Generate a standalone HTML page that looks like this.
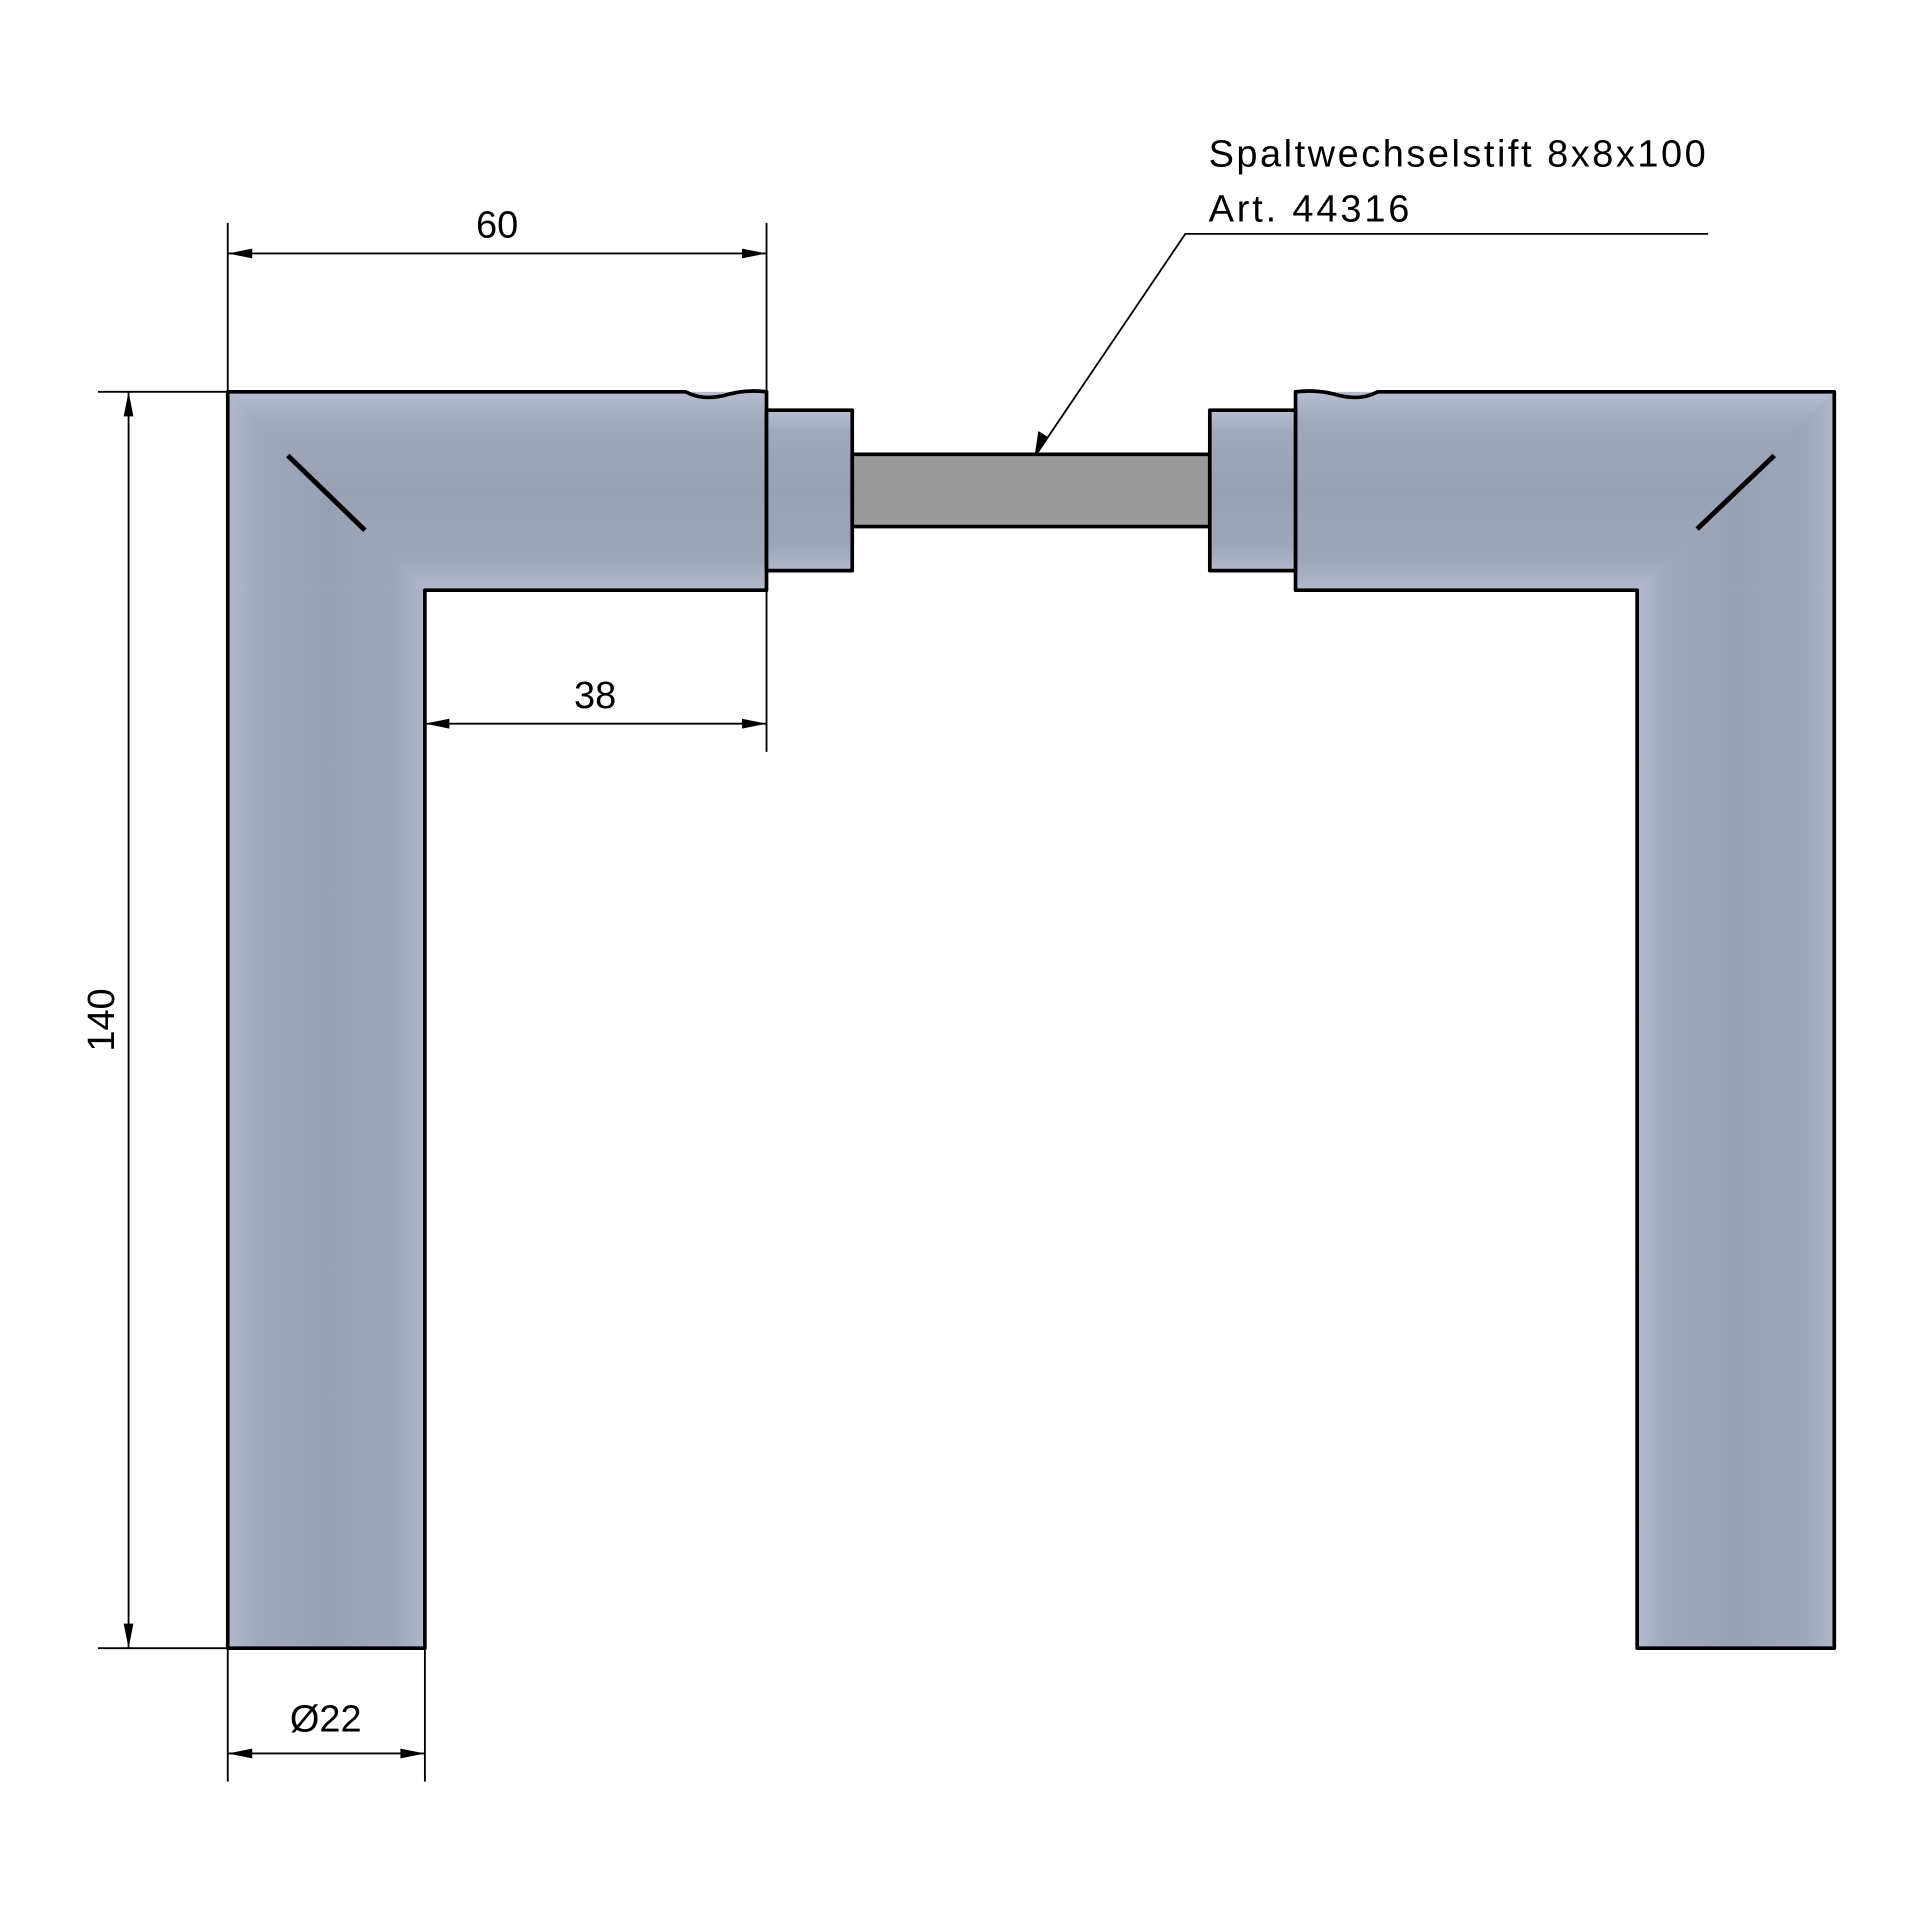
<!DOCTYPE html>
<html><head><meta charset="utf-8"><style>html,body{margin:0;padding:0;background:#fff}svg{display:block}</style></head>
<body>
<svg width="1920" height="1920" viewBox="0 0 1568 1568" xmlns="http://www.w3.org/2000/svg">
<defs>
<linearGradient id="gv" x1="0" x2="1" y1="0" y2="0">
<stop offset="0" stop-color="#b4bacc"/><stop offset="0.15" stop-color="#a2a8bc"/><stop offset="0.5" stop-color="#9aa0b4"/><stop offset="0.85" stop-color="#a0a6ba"/><stop offset="1" stop-color="#b0b6ca"/>
</linearGradient>
<linearGradient id="gh" x1="0" x2="0" y1="0" y2="1">
<stop offset="0" stop-color="#b8bed2"/><stop offset="0.15" stop-color="#a2a8bc"/><stop offset="0.5" stop-color="#9aa0b4"/><stop offset="0.85" stop-color="#a0a6ba"/><stop offset="1" stop-color="#b4bacc"/>
</linearGradient>
</defs>
<g stroke="#000" stroke-width="3" stroke-linejoin="round">
<rect x="186" y="320" width="161" height="1026" fill="url(#gv)" stroke="none"/>
<rect x="186" y="320" width="440" height="162" fill="url(#gh)" stroke="none"/>
<polygon points="186,320 347,482 186,482" fill="url(#gv)" stroke="none"/>
<path d="M186,1346 L186,320 L560,320 Q575,328 595,322 Q610,318 626,320 L626,482 L347,482 L347,1346 Z" fill="none"/>
<rect x="626" y="335" width="70" height="131" fill="url(#gh)"/>
<rect x="696" y="371" width="292" height="59" fill="#999"/>
<line x1="235" y1="372" x2="298" y2="433" stroke-width="4"/>
<rect x="1337" y="320" width="161" height="1026" fill="url(#gv)" stroke="none"/>
<rect x="1058" y="320" width="440" height="162" fill="url(#gh)" stroke="none"/>
<polygon points="1498,320 1337,482 1498,482" fill="url(#gv)" stroke="none"/>
<path d="M1337,1346 L1337,482 L1058,482 L1058,320 Q1075,318 1090,322 Q1110,328 1125,320 L1498,320 L1498,1346 Z" fill="none"/>
<rect x="988" y="335" width="70" height="131" fill="url(#gh)"/>
<line x1="1449" y1="372" x2="1386" y2="432" stroke-width="4"/>
</g>
<g stroke="#000" stroke-width="1.5" fill="none">
<line x1="186" y1="182" x2="186" y2="320"/><line x1="626" y1="182" x2="626" y2="320"/>
<line x1="186" y1="207" x2="626" y2="207"/>
<line x1="626" y1="482" x2="626" y2="614"/>
<line x1="347" y1="591" x2="626" y2="591"/>
<line x1="80" y1="320" x2="186" y2="320"/><line x1="80" y1="1346" x2="186" y2="1346"/>
<line x1="105" y1="320" x2="105" y2="1346"/>
<line x1="186" y1="1346" x2="186" y2="1455"/><line x1="347" y1="1346" x2="347" y2="1455"/>
<line x1="186" y1="1432" x2="347" y2="1432"/>
<polyline points="847,370 968,191 1395,191"/>
</g>
<g fill="#000">
<polygon points="186,207 206,203 206,211"/><polygon points="626,207 606,203 606,211"/>
<polygon points="347,591 367,587 367,595"/><polygon points="626,591 606,587 606,595"/>
<polygon points="105,320 101,340 109,340"/><polygon points="105,1346 101,1326 109,1326"/>
<polygon points="186,1432 206,1428 206,1436"/><polygon points="347,1432 327,1428 327,1436"/>
<polygon points="845,372 848,352 856,357"/>
</g>
<g font-family="Liberation Sans, sans-serif" font-size="31" fill="#000">
<text x="406" y="194" text-anchor="middle">60</text>
<text x="486" y="578" text-anchor="middle">38</text>
<text x="266" y="1414" text-anchor="middle">Ø22</text>
<text transform="translate(93,833) rotate(-90)" text-anchor="middle">140</text>
<text x="987" y="136" textLength="406" lengthAdjust="spacing">Spaltwechselstift 8x8x100</text>
<text x="987" y="181" textLength="164" lengthAdjust="spacing">Art. 44316</text>
</g>
</svg>
</body></html>
